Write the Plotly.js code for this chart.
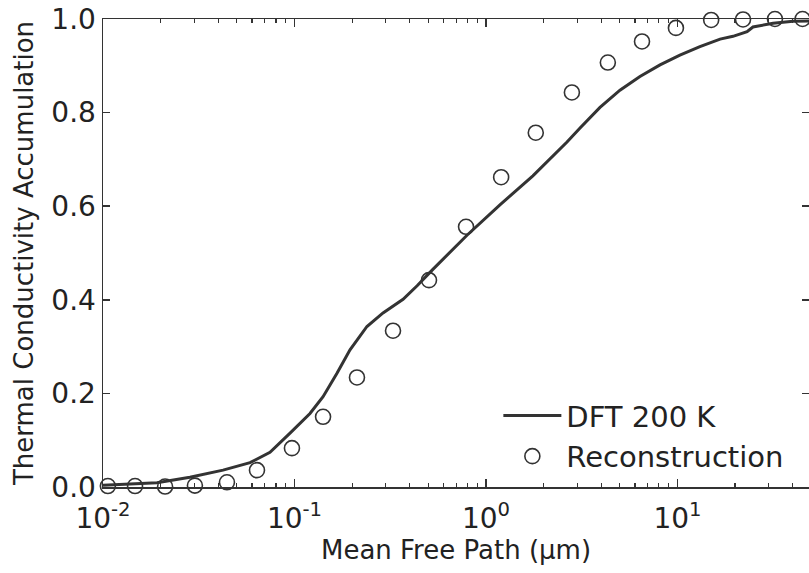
<!DOCTYPE html>
<html>
<head>
<meta charset="utf-8">
<script src="https://cdn.plot.ly/plotly-3.0.1.min.js"></script>
<style>html,body{margin:0;padding:0;background:#fff;}#chart{width:809px;height:573px;}</style>
</head>
<body>
<div id="chart"></div>
<script>
// DFT 200 K accumulation curve
const mfpCurve = [0.01, 0.01303, 0.01914, 0.02844, 0.04236, 0.0586, 0.0745, 0.0948, 0.1205, 0.141, 0.1667, 0.195, 0.239, 0.290, 0.369, 0.437, 0.528, 0.796, 1.183, 1.758, 2.65, 3.10, 3.94, 5.01, 6.37, 8.11, 10.3, 13.1, 16.7, 19.5, 23.1, 24.8, 31.6, 40.1, 48.6, 60];
const dftAccum = [0.004, 0.006, 0.009, 0.021, 0.036, 0.052, 0.074, 0.115, 0.157, 0.193, 0.243, 0.293, 0.343, 0.372, 0.401, 0.430, 0.465, 0.538, 0.603, 0.665, 0.737, 0.767, 0.811, 0.848, 0.877, 0.902, 0.923, 0.941, 0.957, 0.963, 0.973, 0.983, 0.991, 0.995, 0.996, 0.997];
// Reconstruction points
const mfpRecon = [0.0106, 0.0147, 0.0211, 0.0302, 0.0444, 0.0637, 0.097, 0.141, 0.212, 0.327, 0.504, 0.787, 1.20, 1.82, 2.81, 4.33, 6.53, 9.82, 15.0, 22.0, 32.3, 45.0];
const reconAccum = [0.002, 0.002, 0.001, 0.003, 0.010, 0.036, 0.083, 0.150, 0.234, 0.334, 0.442, 0.556, 0.662, 0.757, 0.843, 0.907, 0.952, 0.981, 0.998, 0.999, 1.000, 1.000];
// Tick labels
const xTickVals = [0.01, 0.1, 1, 10];
const xTickText = ['10<sup>-2</sup>', '10<sup>-1</sup>', '10<sup>0</sup>', '10<sup>1</sup>'];
const yTickVals = [0, 0.2, 0.4, 0.6, 0.8, 1.0];
const yTickText = ['0.0', '0.2', '0.4', '0.6', '0.8', '1.0'];

const ink = '#333333';
const font = 'DejaVu Sans, Liberation Sans, Arial, sans-serif';

const traces = [
  {
    x: mfpCurve, y: dftAccum, type: 'scatter', mode: 'lines', name: 'DFT 200 K',
    line: {color: ink, width: 3}
  },
  {
    x: mfpRecon, y: reconAccum, type: 'scatter', mode: 'markers', name: 'Reconstruction',
    marker: {symbol: 'circle-open', size: 15, color: ink, line: {width: 1.6, color: ink}},
    cliponaxis: false
  }
];

const layout = {
  width: 809, height: 573,
  margin: {l: 103, r: 0, t: 19, b: 86},
  paper_bgcolor: '#fff', plot_bgcolor: '#fff',
  font: {family: font, color: '#222'},
  showlegend: true,
  legend: {
    x: 0.56, y: 0.207, xanchor: 'left', yanchor: 'top',
    bgcolor: 'rgba(0,0,0,0)', font: {size: 29, family: font, color: '#222'},
    itemwidth: 58, tracegroupgap: 0
  },
  xaxis: {
    type: 'log', range: [-2, 1.687],
    tickmode: 'array', tickvals: xTickVals, ticktext: xTickText,
    ticks: 'inside', ticklen: 8, tickwidth: 1.5, tickcolor: ink,
    ticklabelstandoff: 6,
    minor: {ticks: 'inside', ticklen: 4, tickwidth: 1.2, tickcolor: ink, dtick: 'D1', showgrid: false},
    showline: true, linecolor: ink, linewidth: 1.5, mirror: 'ticks',
    showgrid: false, zeroline: false,
    tickfont: {size: 28, family: font, color: '#222'},
    title: {text: 'Mean Free Path (\u03bcm)', font: {size: 26, family: font, color: '#222'}, standoff: 4}
  },
  yaxis: {
    range: [0, 1.0],
    tickmode: 'array', tickvals: yTickVals, ticktext: yTickText,
    ticks: 'inside', ticklen: 7, tickwidth: 1.5, tickcolor: ink,
    showline: true, linecolor: ink, linewidth: 1.5, mirror: 'ticks',
    showgrid: false, zeroline: false,
    tickfont: {size: 28, family: font, color: '#222'},
    title: {text: 'Thermal Conductivity Accumulation', font: {size: 26, family: font, color: '#222'}, standoff: 10}
  }
};

Plotly.newPlot('chart', traces, layout, {displayModeBar: false, staticPlot: true});
</script>
</body>
</html>
